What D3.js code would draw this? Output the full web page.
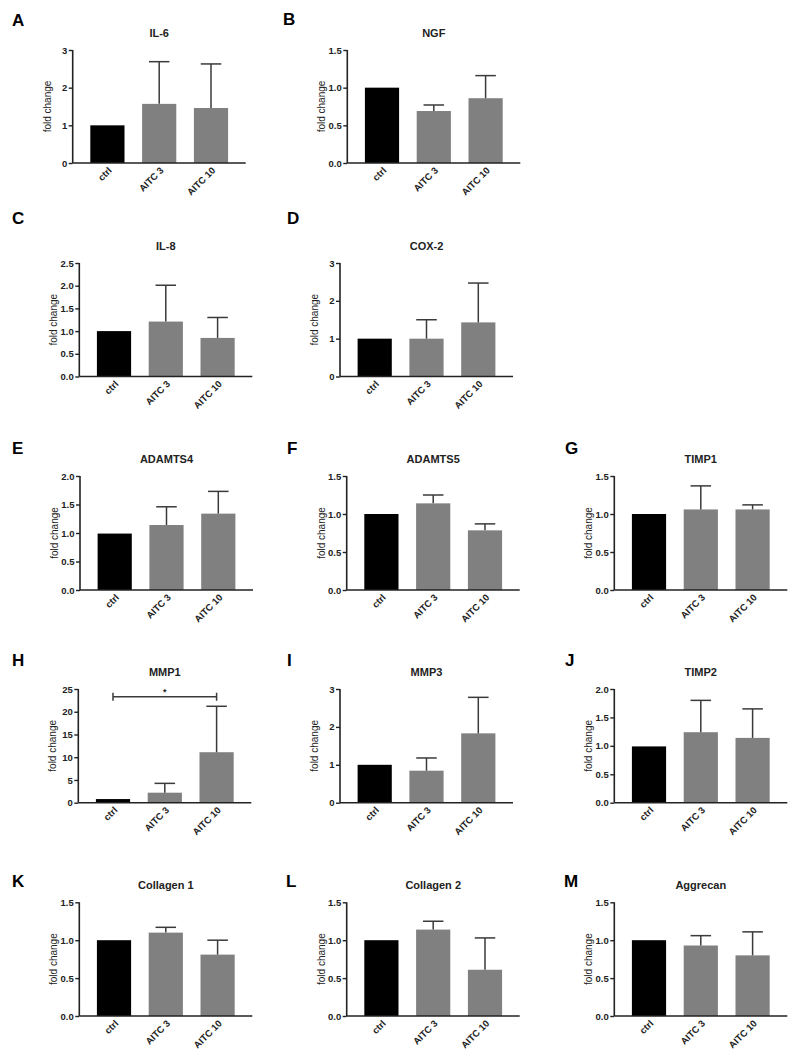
<!DOCTYPE html>
<html>
<head>
<meta charset="utf-8">
<script src="https://cdn.jsdelivr.net/npm/d3@7/dist/d3.min.js"></script>
<style>
  html, body { margin: 0; padding: 0; background: #fff; }
  svg { display: block; }
  text { font-family: "Liberation Sans", Arial, sans-serif; }
</style>
</head>
<body>
<svg id="chart" width="795" height="1060"></svg>
<script>
// ---------------- DATA ----------------
const categories = ["ctrl", "AITC 3", "AITC 10"];
const panelLetters = ["A","B","C","D","E","F","G","H","I","J","K","L","M"];
const genes = ["IL-6","NGF","IL-8","COX-2","ADAMTS4","ADAMTS5","TIMP1","MMP1","MMP3","TIMP2","Collagen 1","Collagen 2","Aggrecan"];
const meansIL6      = [1.00, 1.57, 1.46];
const meansNGF      = [1.00, 0.69, 0.86];
const meansIL8      = [1.00, 1.21, 0.85];
const meansCOX2     = [1.00, 1.00, 1.43];
const meansADAMTS4  = [0.99, 1.14, 1.34];
const meansADAMTS5  = [1.00, 1.14, 0.785];
const meansTIMP1    = [1.00, 1.06, 1.06];
const meansMMP1     = [0.80, 2.20, 11.1];
const meansMMP3     = [1.00, 0.845, 1.83];
const meansTIMP2    = [0.99, 1.24, 1.14];
const meansCol1     = [1.00, 1.10, 0.81];
const meansCol2     = [1.00, 1.14, 0.61];
const meansAggrecan = [1.00, 0.93, 0.80];
const errIL6      = [0, 1.12, 1.17];
const errNGF      = [0, 0.08, 0.30];
const errIL8      = [0, 0.80, 0.45];
const errCOX2     = [0, 0.50, 1.04];
const errADAMTS4  = [0, 0.32, 0.39];
const errADAMTS5  = [0, 0.11, 0.085];
const errTIMP1    = [0, 0.31, 0.06];
const errMMP1     = [0, 2.05, 10.1];
const errMMP3     = [0, 0.335, 0.95];
const errTIMP2    = [0, 0.56, 0.51];
const errCol1     = [0, 0.07, 0.19];
const errCol2     = [0, 0.11, 0.42];
const errAggrecan = [0, 0.13, 0.31];
const yMaxes    = [3, 1.5, 2.5, 3, 2, 1.5, 1.5, 25, 3, 2, 1.5, 1.5, 1.5];
const tickSteps = [1, 0.5, 0.5, 1, 0.5, 0.5, 0.5, 5, 1, 0.5, 0.5, 0.5, 0.5];
const yLabel = "fold change";
// significance bracket (panel MMP1): between ctrl and AITC 10
const sigPanel = 7, sigFrom = "ctrl", sigTo = "AITC 10", sigLevel = 23.3, sigMark = "*";

const allMeans = [meansIL6, meansNGF, meansIL8, meansCOX2, meansADAMTS4, meansADAMTS5, meansTIMP1, meansMMP1, meansMMP3, meansTIMP2, meansCol1, meansCol2, meansAggrecan];
const allErr = [errIL6, errNGF, errIL8, errCOX2, errADAMTS4, errADAMTS5, errTIMP1, errMMP1, errMMP3, errTIMP2, errCol1, errCol2, errAggrecan];

// ---------------- LAYOUT ----------------
const rows = [
  {top: 50,    bottom: 163},
  {top: 263,   bottom: 376.5},
  {top: 476,   bottom: 590},
  {top: 689,   bottom: 802.7},
  {top: 902.3, bottom: 1016}
];
const layout = [
  {row:0, ax:72.7,  lx:12,  ly:26},
  {row:0, ax:347.3, lx:283, ly:25},
  {row:1, ax:79.3,  lx:12,  ly:224},
  {row:1, ax:340,   lx:287, ly:224},
  {row:2, ax:80,    lx:12,  ly:454},
  {row:2, ax:346.7, lx:287, ly:454},
  {row:2, ax:614.3, lx:565, ly:454},
  {row:3, ax:78.3,  lx:12,  ly:666},
  {row:3, ax:340,   lx:287, ly:666},
  {row:3, ax:614.3, lx:565, ly:666},
  {row:4, ax:79.3,  lx:12,  ly:887},
  {row:4, ax:346.7, lx:286, ly:887},
  {row:4, ax:614.3, lx:564, ly:887}
];
const plotW = 173;
const barColors = ["#000000", "#808080", "#808080"];
const inkColor = "#222";

const svg = d3.select("#chart");

genes.forEach((gene, i) => {
  const L = layout[i], R = rows[L.row];
  const g = svg.append("g");
  const x = d3.scaleBand().domain(categories).range([L.ax, L.ax + plotW]).padding(0.34);
  const y = d3.scaleLinear().domain([0, yMaxes[i]]).range([R.bottom, R.top]);
  const ticks = d3.range(0, yMaxes[i] + tickSteps[i] / 2, tickSteps[i]);
  const fmt = tickSteps[i] < 1 ? d3.format(".1f") : d3.format("d");

  const data = categories.map((c, k) => ({c, v: allMeans[i][k], e: allErr[i][k], col: barColors[k]}));

  // bars
  g.selectAll("rect.bar").data(data).join("rect")
    .attr("x", d => x(d.c))
    .attr("width", x.bandwidth())
    .attr("y", d => y(d.v))
    .attr("height", d => y(0) - y(d.v))
    .attr("fill", d => d.col);

  // error bars (upper only)
  const eb = data.filter(d => d.e > 0);
  const capW = x.bandwidth() * 0.6;
  g.selectAll("line.ev").data(eb).join("line")
    .attr("x1", d => x(d.c) + x.bandwidth() / 2).attr("x2", d => x(d.c) + x.bandwidth() / 2)
    .attr("y1", d => y(d.v)).attr("y2", d => y(d.v + d.e))
    .attr("stroke", "#3a3a3a").attr("stroke-width", 1.5);
  g.selectAll("line.ec").data(eb).join("line")
    .attr("x1", d => x(d.c) + x.bandwidth() / 2 - capW / 2).attr("x2", d => x(d.c) + x.bandwidth() / 2 + capW / 2)
    .attr("y1", d => y(d.v + d.e)).attr("y2", d => y(d.v + d.e))
    .attr("stroke", "#3a3a3a").attr("stroke-width", 1.5);

  // y axis
  const yAxis = d3.axisLeft(y).tickValues(ticks).tickFormat(fmt).tickSize(4).tickPadding(1.5);
  const ya = g.append("g").attr("transform", `translate(${L.ax},0)`).call(yAxis);
  ya.select(".domain").attr("stroke", inkColor).attr("stroke-width", 1.6).attr("d", `M0,${R.bottom}V${R.top}`);
  ya.selectAll(".tick line").attr("stroke", inkColor).attr("stroke-width", 1.4);
  ya.selectAll(".tick text").attr("fill", inkColor).style("font-size", "9.5px").style("font-weight", "bold");

  // x axis
  const xAxis = d3.axisBottom(x).tickSize(0).tickPadding(0);
  const xa = g.append("g").attr("transform", `translate(0,${R.bottom})`).call(xAxis);
  xa.select(".domain").attr("stroke", inkColor).attr("stroke-width", 1.6).attr("d", `M${L.ax},0H${L.ax + plotW}`);
  xa.selectAll(".tick text")
    .attr("fill", inkColor)
    .style("font-size", "9.5px").style("font-weight", "bold")
    .attr("text-anchor", "end")
    .attr("dy", null).attr("y", 0)
    .attr("transform", "translate(5,8) rotate(-45)");

  // y label
  g.append("text")
    .attr("transform", `translate(${L.ax - 22},${(R.top + R.bottom) / 2}) rotate(-90)`)
    .attr("text-anchor", "middle")
    .attr("fill", inkColor)
    .style("font-size", "10px")
    .text(yLabel);

  // title
  g.append("text")
    .attr("x", L.ax + plotW / 2).attr("y", R.top - 13)
    .attr("text-anchor", "middle").attr("fill", inkColor)
    .style("font-size", "11px").style("font-weight", "bold")
    .text(gene);

  // panel letter
  g.append("text")
    .attr("x", L.lx).attr("y", L.ly)
    .attr("fill", "#000")
    .style("font-size", "17px").style("font-weight", "bold")
    .text(panelLetters[i]);

  // significance
  if (i === sigPanel) {
    const x1 = x(sigFrom) + x.bandwidth() / 2, x2 = x(sigTo) + x.bandwidth() / 2, yy = y(sigLevel);
    g.append("path")
      .attr("d", `M${x1},${yy - 4}V${yy + 4}M${x1},${yy}H${x2}M${x2},${yy - 4}V${yy + 4}`)
      .attr("stroke", "#3a3a3a").attr("stroke-width", 1.5).attr("fill", "none");
    g.append("text")
      .attr("x", (x1 + x2) / 2).attr("y", yy - 2)
      .attr("text-anchor", "middle").attr("fill", inkColor)
      .style("font-size", "9px").style("font-weight", "bold")
      .text(sigMark);
  }
});
</script>
</body>
</html>
